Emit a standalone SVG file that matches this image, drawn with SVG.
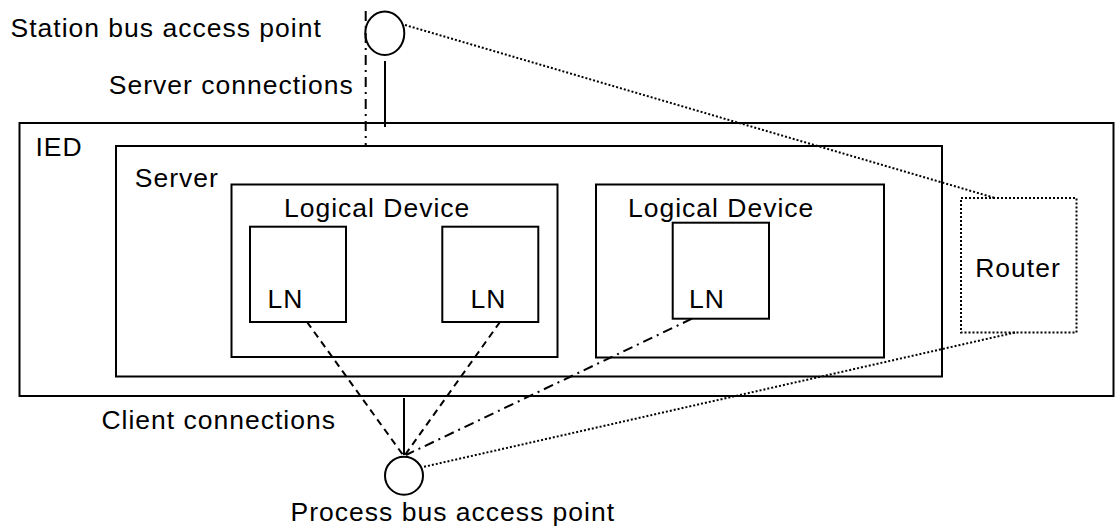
<svg xmlns="http://www.w3.org/2000/svg" width="1116" height="528" viewBox="0 0 1116 528">
<style>
text{font-family:"Liberation Sans",Arial,sans-serif;font-size:26.5px;letter-spacing:1px;fill:#000}
.box{fill:none;stroke:#000;stroke-width:2}
.dot{fill:none;stroke:#000;stroke-width:2;stroke-dasharray:2,2}
.solid{fill:none;stroke:#000;stroke-width:2}
.dash{fill:none;stroke:#000;stroke-width:2;stroke-dasharray:7,5}
.dashdot{fill:none;stroke:#000;stroke-width:2;stroke-dasharray:10,5,2,5}
</style>
<rect width="1116" height="528" fill="#fff"/>
<g id="ied">
<rect class="box" x="19.5" y="123" width="1094" height="273"/>
<text x="35.5" y="156.3">IED</text>
</g>
<g id="server">
<rect class="box" x="116" y="146" width="826" height="230.5"/>
<text x="134.8" y="187">Server</text>
</g>
<g id="ld1">
<rect class="box" x="231.5" y="184.5" width="326" height="172.5"/>
<text x="284" y="217">Logical Device</text>
</g>
<g id="ld2">
<rect class="box" x="596" y="184.5" width="288" height="173"/>
<text x="628" y="217">Logical Device</text>
</g>
<g id="ln1">
<rect class="box" x="250" y="226.7" width="96" height="95.3"/>
<text x="267.4" y="308">LN</text>
</g>
<g id="ln2">
<rect class="box" x="442.3" y="226.7" width="96" height="95.3"/>
<text x="470.4" y="308">LN</text>
</g>
<g id="ln3">
<rect class="box" x="672.7" y="222.7" width="96.3" height="96"/>
<text x="689" y="307.5">LN</text>
</g>
<g id="router">
<rect class="dot" x="961" y="198" width="115.5" height="134.5"/>
<text x="975.2" y="277">Router</text>
</g>
<g id="station">
<ellipse class="box" cx="384.8" cy="33.3" rx="19.5" ry="21.7"/>
<text x="10.5" y="37">Station bus access point</text>
</g>
<g id="process">
<circle class="box" cx="404" cy="475.7" r="19"/>
<text x="290.6" y="520.7">Process bus access point</text>
</g>
<g id="connectors">
<line class="solid" x1="385" y1="61" x2="385" y2="127"/>
<line class="dashdot" x1="365.7" y1="11" x2="365.7" y2="146"/>
<line class="dot" x1="405" y1="25" x2="995" y2="198"/>
<line class="solid" x1="404" y1="398" x2="404" y2="455"/>
<line class="dash" x1="307" y1="322" x2="403" y2="455"/>
<line class="dash" x1="500" y1="322" x2="405" y2="455"/>
<line class="dashdot" x1="692" y1="318.7" x2="406" y2="455"/>
<line class="dot" x1="1015" y1="332.5" x2="423" y2="467"/>
<text x="108.8" y="94.3">Server connections</text>
<text x="101.4" y="429.3">Client connections</text>
</g>
</svg>
